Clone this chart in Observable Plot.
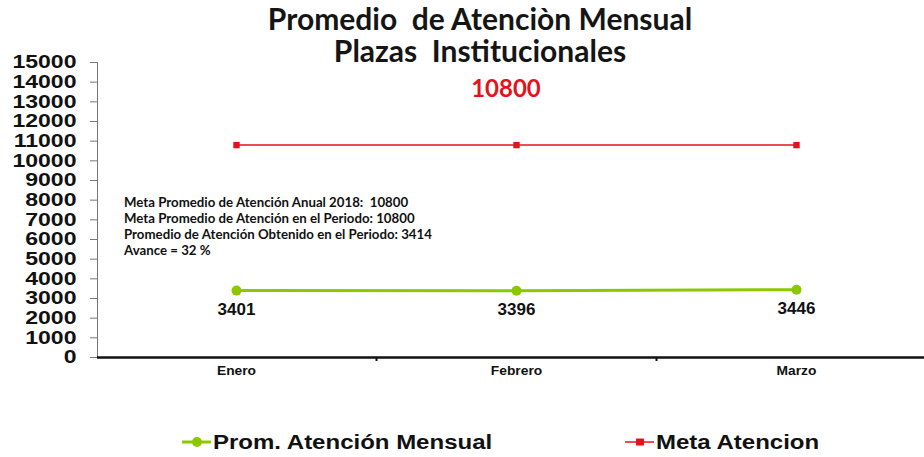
<!DOCTYPE html>
<html>
<head>
<meta charset="utf-8">
<script src="https://cdn.jsdelivr.net/npm/d3@7"></script>
<script src="https://cdn.jsdelivr.net/npm/@observablehq/plot@0.6"></script>
<style>
  body { margin: 0; background: #fff; }
  #wrap { position: relative; width: 924px; height: 457px; overflow: hidden; background: #fff; }
  #chart { position: absolute; left: 0; top: 0; }
  .title { position: absolute; left: 0; top: 2px; width: 960px; text-align: center; font-family: Lato, sans-serif; font-weight: 700; font-size: 30px; line-height: 32px; color: #151515; white-space: pre; }
  .meta { position: absolute; left: 406px; width: 200px; top: 74px; text-align: center; font-family: Lato, sans-serif; font-weight: 700; font-size: 24px; line-height: 28px; color: #e3121b; }
  .note { position: absolute; left: 124px; top: 195px; font-family: Lato, sans-serif; font-weight: 700; font-size: 12.5px; line-height: 16px; color: #111; white-space: pre; transform: scaleX(1.06); transform-origin: left top; }
  .legend { position: absolute; top: 430px; font-family: "Liberation Sans", Arial, sans-serif; font-weight: 700; font-size: 20px; line-height: 24px; color: #111; display: flex; align-items: center; white-space: nowrap; }
  .legend span { display: inline-block; transform: scaleX(1.2); transform-origin: left center; }
</style>
</head>
<body>
<div id="wrap">
  <div id="chart"></div>
  <div class="title" id="title"></div>
  <div class="meta" id="metaTop"></div>
  <div class="note" id="note"></div>
  <div class="legend" id="leg1" style="left:182px;"></div>
  <div class="legend" id="leg2" style="left:625px;"></div>
</div>
<script>
const titleLines = ["Promedio  de Atenciòn Mensual", "Plazas  Institucionales"];
const months = ["Enero", "Febrero", "Marzo"];
const promedio = [3401, 3396, 3446];
const metaAtencion = [10800, 10800, 10800];
const yTicks = [0, 1000, 2000, 3000, 4000, 5000, 6000, 7000, 8000, 9000, 10000, 11000, 12000, 13000, 14000, 15000];
const seriesNames = ["Prom. Atención Mensual", "Meta Atencion"];
const noteLines = [
  "Meta Promedio de Atención Anual 2018:  10800",
  "Meta Promedio de Atención en el Periodo: 10800",
  "Promedio de Atención Obtenido en el Periodo: 3414",
  "Avance = 32 %"
];
const metaLabel = "10800";

const green = "#8cc800";
const red = "#e3121b";

const prom = months.map((m, i) => ({month: m, value: promedio[i]}));
const meta = months.map((m, i) => ({month: m, value: metaAtencion[i]}));

const chart = Plot.plot({
  width: 924,
  height: 400,
  marginLeft: 97,
  marginRight: 0,
  marginTop: 62,
  marginBottom: 43,
  style: {fontFamily: "'Liberation Sans', Arial, sans-serif", background: "transparent", overflow: "visible"},
  x: {type: "band", domain: months, range: [96, 936], padding: 0},
  y: {domain: [0, 15000]},
  marks: [
    Plot.frame({anchor: "left", stroke: "#777", strokeWidth: 1}),
    Plot.axisY({ticks: yTicks, tickSize: 7, tickPadding: 14, fontSize: 18, fontWeight: "bold", fill: "#111", stroke: "#777", tickFormat: d => String(d), label: null}),
    Plot.axisX({tickSize: 0, tickPadding: 9, fontSize: 12, fontWeight: "bold", fill: "#111", label: null}),
    Plot.ruleX(months.slice(0, 2), {x: d => d, dx: 140, y1: 0, y2: 0, insetBottom: -4, stroke: "#111", strokeWidth: 2}),
    Plot.ruleY([0], {stroke: "#111", strokeWidth: 2.5}),
    Plot.line(meta, {x: "month", y: "value", stroke: red, strokeWidth: 1.5}),
    Plot.dot(meta, {x: "month", y: "value", symbol: "square", r: 3.6, fill: red, stroke: null}),
    Plot.line(prom, {x: "month", y: "value", stroke: green, strokeWidth: 3}),
    Plot.dot(prom, {x: "month", y: "value", r: 5, fill: green, stroke: null}),
    Plot.text(prom, {x: "month", y: "value", text: d => String(d.value), dy: 19, fontSize: 17, fontWeight: "bold", fill: "#111"})
  ]
});
document.getElementById("chart").appendChild(chart);

// widen the tick labels slightly like the reference
function stretch(sel, f) {
  d3.select(chart).selectAll(sel).each(function() {
    const w = this.getComputedTextLength();
    this.setAttribute("textLength", (w * f).toFixed(1));
    this.setAttribute("lengthAdjust", "spacingAndGlyphs");
  });
}
stretch("g[aria-label='y-axis tick label'] text", 1.28);
stretch("g[aria-label='x-axis tick label'] text", 1.15);

document.getElementById("title").textContent = titleLines.join("\n");
document.getElementById("metaTop").textContent = metaLabel;
document.getElementById("note").textContent = noteLines.join("\n");

function legendItem(el, name, color, symbol) {
  const s = d3.create("svg").attr("width", 30).attr("height", 14).style("margin-right", "1px");
  s.append("line").attr("x1", 0).attr("x2", 29).attr("y1", 7).attr("y2", 7).attr("stroke", color).attr("stroke-width", symbol === "circle" ? 3 : 1.5);
  if (symbol === "circle") s.append("circle").attr("cx", 15).attr("cy", 7).attr("r", 5).attr("fill", color);
  else s.append("rect").attr("x", 11).attr("y", 3.5).attr("width", 8).attr("height", 7).attr("fill", color);
  el.appendChild(s.node());
  const t = document.createElement("span");
  t.textContent = name;
  el.appendChild(t);
}
legendItem(document.getElementById("leg1"), seriesNames[0], green, "circle");
legendItem(document.getElementById("leg2"), seriesNames[1], red, "square");
</script>
</body>
</html>
